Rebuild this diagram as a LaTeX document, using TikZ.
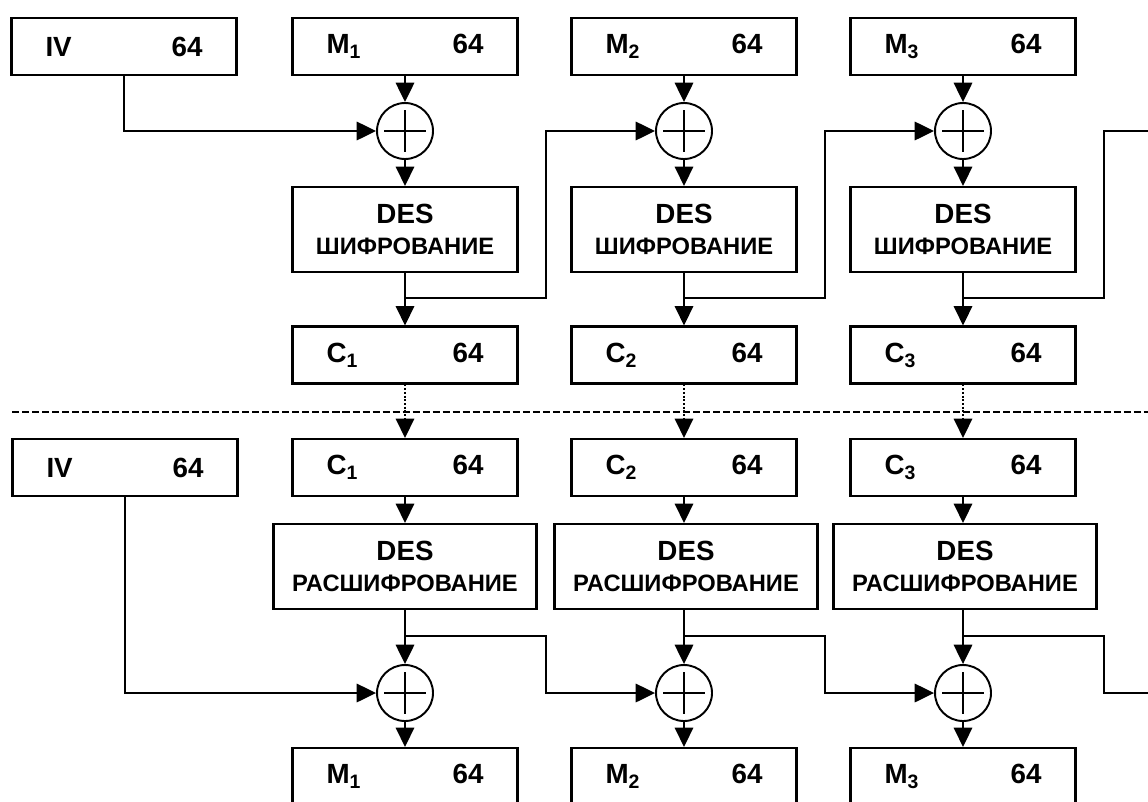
\documentclass[tikz,border=0pt]{standalone}
\usepackage{fontspec}
\setmainfont{Liberation Sans}
\usetikzlibrary{arrows.meta}
\newcommand{\modetext}[1]{{\fontsize{13.5}{15}\selectfont #1}}

\begin{document}
\begin{tikzpicture}[x=0.02cm, y=-0.02cm,
    every node/.style={font=\bfseries\fontsize{15.8}{17.6}\selectfont},
    regbox/.style={draw, line width=1.2pt, minimum width=4.5cm, minimum height=1.14cm, text width=3.14cm, inner xsep=0pt},
    encbox/.style={draw, line width=1.2pt, minimum width=4.5cm, minimum height=1.7cm, align=center, inner sep=0pt},
    decbox/.style={encbox, minimum width=5.26cm},
    xorop/.style={draw, circle, line width=1.1pt, minimum size=1.12cm, inner sep=0pt,
      path picture={\draw[line width=1.1pt] ([yshift=-0.14cm]path picture bounding box.north) -- ([yshift=0.14cm]path picture bounding box.south)
        ([xshift=0.14cm]path picture bounding box.west) -- ([xshift=-0.14cm]path picture bounding box.east);}},
    link/.style={line width=1.1pt},
    arr/.style={link, -{Triangle[length=11pt,width=10.5pt]}}
  ]
  \useasboundingbox (0,0) rectangle (1148,801);
  \clip (0,0) rectangle (1148,801);

  \node[regbox] (iv) at (124,46.5) {IV\hfill 64};
  \node[regbox] (m1) at (405,46.5) {M\textsubscript{1}\hfill 64};
  \node[regbox] (m2) at (684,46.5) {M\textsubscript{2}\hfill 64};
  \node[regbox] (m3) at (963,46.5) {M\textsubscript{3}\hfill 64};

  \node[xorop] (x1) at (405,131) {};
  \node[xorop] (x2) at (684,131) {};
  \node[xorop] (x3) at (963,131) {};

  \node[encbox] (e1) at (405,229.5) {DES\\\modetext{ШИФРОВАНИЕ}};
  \node[encbox] (e2) at (684,229.5) {DES\\\modetext{ШИФРОВАНИЕ}};
  \node[encbox] (e3) at (963,229.5) {DES\\\modetext{ШИФРОВАНИЕ}};

  \node[regbox] (c1) at (405,355) {C\textsubscript{1}\hfill 64};
  \node[regbox] (c2) at (684,355) {C\textsubscript{2}\hfill 64};
  \node[regbox] (c3) at (963,355) {C\textsubscript{3}\hfill 64};

  \coordinate (k1) at (546,298);
  \coordinate (k2) at (825,298);
  \coordinate (k3) at (1104,298);
  \coordinate (o1) at (1148,131);

  \draw[arr] (iv.south) |- (x1.west);
  \draw[arr] (m1) -- (x1);
  \draw[arr] (m2) -- (x2);
  \draw[arr] (m3) -- (x3);
  \draw[arr] (x1) -- (e1);
  \draw[arr] (x2) -- (e2);
  \draw[arr] (x3) -- (e3);
  \draw[arr] (e1) -- (c1);
  \draw[arr] (e2) -- (c2);
  \draw[arr] (e3) -- (c3);
  \draw[arr] (e1.south |- k1) -- (k1) |- (x2.west);
  \draw[arr] (e2.south |- k2) -- (k2) |- (x3.west);
  \draw[link] (e3.south |- k3) -- (k3) |- (o1);

  \coordinate (dl) at (12,412);
  \coordinate (dr) at (1148,412);
  \draw[line width=1.1pt, dash pattern=on 4pt off 1.7pt] (dl) -- (dr);

  \node[regbox] (iv2) at (125,467.5) {IV\hfill 64};
  \node[regbox] (cb1) at (405,467.5) {C\textsubscript{1}\hfill 64};
  \node[regbox] (cb2) at (684,467.5) {C\textsubscript{2}\hfill 64};
  \node[regbox] (cb3) at (963,467.5) {C\textsubscript{3}\hfill 64};

  \draw[arr, densely dotted] (c1) -- (cb1);
  \draw[arr, densely dotted] (c2) -- (cb2);
  \draw[arr, densely dotted] (c3) -- (cb3);

  \node[decbox] (d1) at (405,566.5) {DES\\\modetext{РАСШИФРОВАНИЕ}};
  \node[decbox] (d2) at (686,566.5) {DES\\\modetext{РАСШИФРОВАНИЕ}};
  \node[decbox] (d3) at (965,566.5) {DES\\\modetext{РАСШИФРОВАНИЕ}};

  \node[xorop] (y1) at (405,693) {};
  \node[xorop] (y2) at (684,693) {};
  \node[xorop] (y3) at (963,693) {};

  \node[regbox] (mb1) at (405,776.5) {M\textsubscript{1}\hfill 64};
  \node[regbox] (mb2) at (684,776.5) {M\textsubscript{2}\hfill 64};
  \node[regbox] (mb3) at (963,776.5) {M\textsubscript{3}\hfill 64};

  \coordinate (j1) at (546,636);
  \coordinate (j2) at (825,636);
  \coordinate (j3) at (1104,636);
  \coordinate (o2) at (1148,693);

  \draw[arr] (iv2.south) |- (y1.west);
  \draw[arr] (cb1) -- (d1.north -| cb1);
  \draw[arr] (cb2) -- (d2.north -| cb2);
  \draw[arr] (cb3) -- (d3.north -| cb3);
  \draw[arr] (d1.south -| y1) -- (y1);
  \draw[arr] (d2.south -| y2) -- (y2);
  \draw[arr] (d3.south -| y3) -- (y3);
  \draw[arr] (y1) -- (mb1);
  \draw[arr] (y2) -- (mb2);
  \draw[arr] (y3) -- (mb3);
  \draw[arr] (y1 |- j1) -- (j1) |- (y2.west);
  \draw[arr] (y2 |- j2) -- (j2) |- (y3.west);
  \draw[link] (y3 |- j3) -- (j3) |- (o2);
\end{tikzpicture}
\end{document}
